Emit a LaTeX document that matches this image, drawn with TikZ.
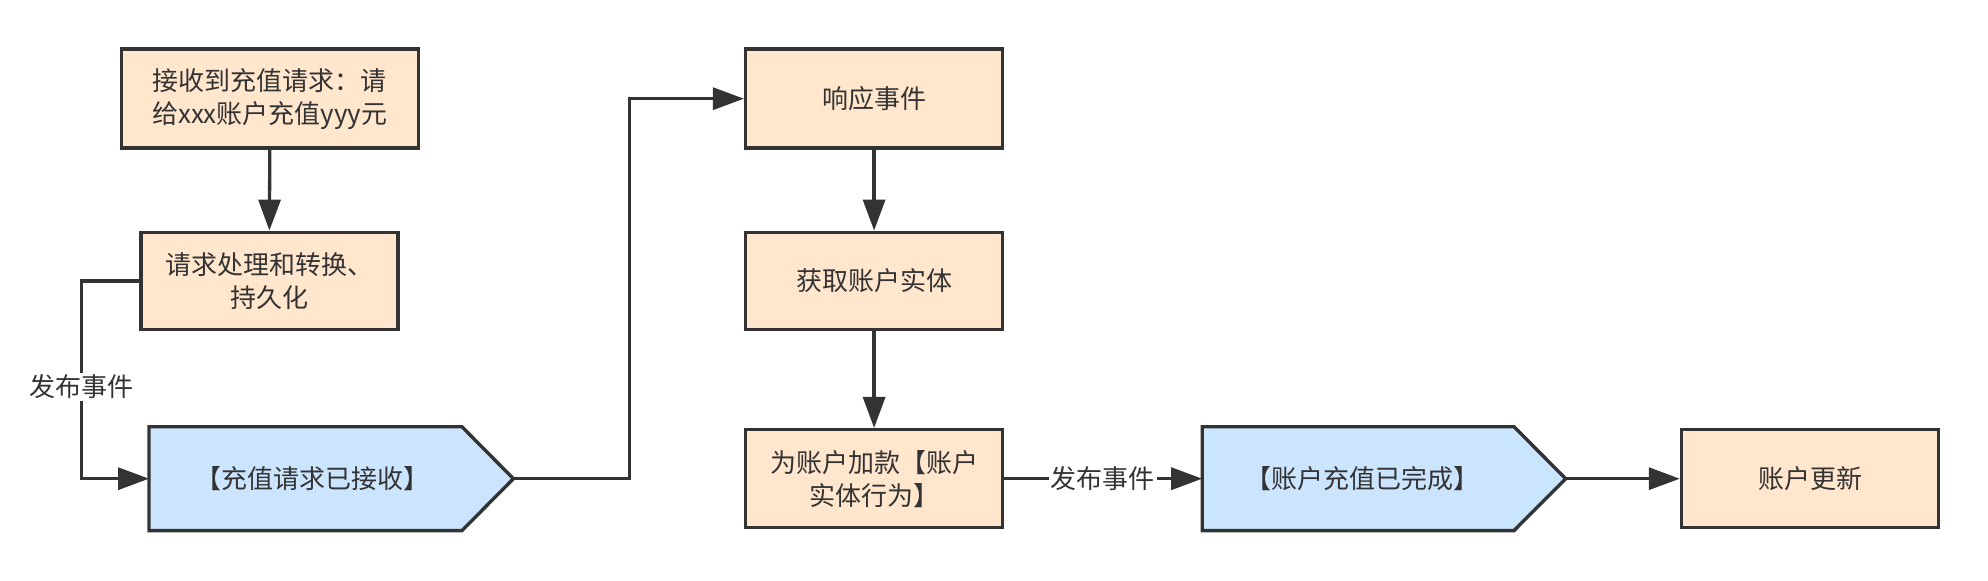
\documentclass[tikz,border=0pt]{standalone}
\usepackage{fontspec}
\setmainfont{Noto Sans CJK SC}
\usetikzlibrary{arrows.meta}
\definecolor{ink}{HTML}{333333}
\definecolor{orangefill}{HTML}{FFE6CC}
\definecolor{bluefill}{HTML}{CCE5FF}
\tikzset{
  box/.style={draw=ink, fill=orangefill, line width=1.7pt, text=ink, align=center,
    minimum width=128.5pt, minimum height=49pt, inner sep=2pt,
    font=\fontsize{13}{16.5}\selectfont},
  evttext/.style={text=ink, font=\fontsize{13}{16.5}\selectfont, inner sep=0pt},
  evtshape/.style={draw=ink, fill=bluefill, line width=1.7pt, line join=miter},
  conn/.style={draw=ink, line width=1.65pt, -{Triangle[length=15.5pt,width=11pt]}},
  lbl/.style={fill=white, text=ink, inner sep=1pt, font=\fontsize{13}{16.5}\selectfont}
}
\begin{document}
\begin{tikzpicture}[x=0.5pt,y=-0.5pt]
\useasboundingbox (0,0) rectangle (1988,581);

% boxes
\node[box, minimum width=148.5pt, minimum height=49.5pt] (b1) at (269.8,98.7) {接收到充值请求：请\\给xxx账户充值yyy元};
\node[box, minimum height=48.7pt] (b2) at (269.4,281) {请求处理和转换、\\持久化};
\node[box, minimum height=49.5pt] (b3) at (874.1,98.7) {响应事件};
\node[box, minimum height=48.7pt] (b4) at (874.1,281) {获取账户实体};
\node[box] (b5) at (874.1,478.7) {为账户加款【账户\\实体行为】};
\node[box] (b6) at (1810,478.7) {账户更新};

% event shapes
\draw[evtshape] (149,426.8) -- (462,426.8) -- (513.4,478.7) -- (462,530.6) -- (149,530.6) -- cycle;
\coordinate (e1w) at (149,478.7);
\coordinate (e1tip) at (513.4,478.7);
\node[evttext] (e1) at (312,478.7) {【充值请求已接收】};

\draw[evtshape] (1202.2,426.8) -- (1514,426.8) -- (1565.7,478.7) -- (1514,530.6) -- (1202.2,530.6) -- cycle;
\coordinate (e2w) at (1202.2,478.7);
\coordinate (e2tip) at (1565.7,478.7);
\node[evttext] (e2) at (1362,478.7) {【账户充值已完成】};

% connectors
\draw[conn] (b1.south) -- (b2.north);
\coordinate (c1) at (81.7,281);
\draw[conn] (b2.west) -- (c1) |- (e1w);
\node[lbl] (l1) at (81.7,387) {发布事件};

\coordinate (c2) at (629.5,478.7);
\draw[conn] (e1tip) -- (c2) |- (b3.west);

\draw[conn] (b3.south) -- (b4.north);
\draw[conn] (b4.south) -- (b5.north);
\draw[conn] (b5.east) -- (e2w);
\node[lbl] (l2) at (1102.5,478.7) {发布事件};
\draw[conn] (e2tip) -- (b6.west);
\end{tikzpicture}
\end{document}
